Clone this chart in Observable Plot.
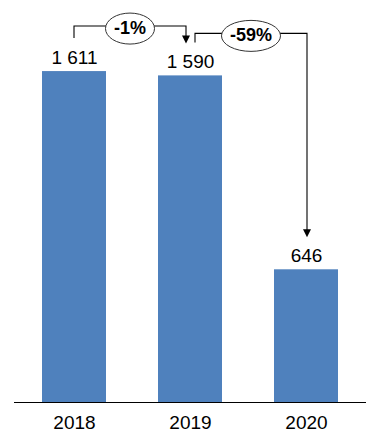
<!DOCTYPE html>
<html><head><meta charset="utf-8">
<script src="https://cdn.jsdelivr.net/npm/d3@7"></script>
<script src="https://cdn.jsdelivr.net/npm/@observablehq/plot@0.6"></script>
<style>body{margin:0;background:#fff}</style>
</head><body><div id="chart"></div>
<script>
// ---- data ----
const years = ["2018", "2019", "2020"];
const values = [1611, 1590, 646];
const changeFrom = ["2018", "2019"];
const changeTo = ["2019", "2020"];

const data = years.map((year, i) => ({year, value: values[i]}));
const valueOf = y => values[years.indexOf(y)];
const fmt = v => d3.format(",")(v).replace(/,/g, " ");
const pct = (a, b) => Math.round((b - a) / a * 100).toString().replace("\u2212", "-") + "%";

// layout of the connector arrows (pixel offsets, not data)
const connLayout = [
  {startDx: 0, endDx: -4, rise: 12},
  {startDx: 5, endDx: 1, rise: 9}
];
const charW = {"-": 0.333, "%": 0.889};
const textW = (s, fs) => d3.sum([...s], c => charW[c] ?? 0.556) * fs;

function connectors(index, scales) {
  const x = scales.x, y = scales.y;
  const bw = x.bandwidth ? x.bandwidth() : 0;
  const cx = v => x(v) + bw / 2;
  const g = d3.create("svg:g");
  changeFrom.forEach((from, k) => {
    const to = changeTo[k], L = connLayout[k];
    const va = valueOf(from), vb = valueOf(to);
    const x1 = cx(from) + L.startDx, x2 = cx(to) + L.endDx;
    const y1 = y(va) - 33;
    const lvl = y1 - L.rise;
    const tip = y(vb) - 32;
    g.append("path")
      .attr("d", `M${x1},${y1}V${lvl}H${x2}V${tip - 7}`)
      .attr("fill", "none").attr("stroke", "#000").attr("stroke-width", 1.1);
    g.append("path")
      .attr("d", `M${x2 - 4},${tip - 8}L${x2 + 4},${tip - 8}L${x2},${tip}Z`)
      .attr("fill", "#000");
    const label = pct(va, vb);
    const mx = (x1 + x2) / 2;
    const w = textW(label, 18);
    g.append("ellipse")
      .attr("cx", mx).attr("cy", lvl + 2.5)
      .attr("rx", w / 2 + 8.5).attr("ry", 15.5)
      .attr("fill", "#fff").attr("stroke", "#333").attr("stroke-width", 1);
    g.append("text")
      .attr("x", mx).attr("y", lvl + 1.5)
      .attr("dy", "0.36em")
      .attr("text-anchor", "middle")
      .attr("font-weight", "bold").attr("font-size", 18)
      .attr("fill", "#000")
      .text(label);
  });
  return g.node();
}

const chart = Plot.plot({
  width: 377,
  height: 437,
  marginTop: 0,
  marginBottom: 35,
  marginLeft: 14,
  marginRight: 11,
  style: {fontFamily: "'Liberation Sans', Arial, sans-serif", fontSize: "19px", color: "#000", background: "#fff"},
  x: {type: "band", domain: years, paddingInner: 0.45, paddingOuter: 0.233, tickSize: 0, tickPadding: 13, label: null},
  y: {domain: [0, 1957], axis: null},
  marks: [
    Plot.barY(data, {x: "year", y: "value", fill: "#4F81BD"}),
    Plot.ruleY([0], {stroke: "#000", strokeWidth: 1}),
    Plot.text(data, {x: "year", y: "value", text: d => fmt(d.value), lineAnchor: "bottom", dy: -8, fontSize: 19, fill: "#000"}),
    connectors
  ]
});
chart.querySelectorAll("[aria-label='x-axis'] text, [aria-label='x-axis tick label'] text").forEach(t => t.setAttribute("font-size", 19));
chart.querySelectorAll("g[aria-label^='x-axis']").forEach(g => g.setAttribute("font-size", 19));
document.getElementById("chart").append(chart);
</script>
</body></html>
